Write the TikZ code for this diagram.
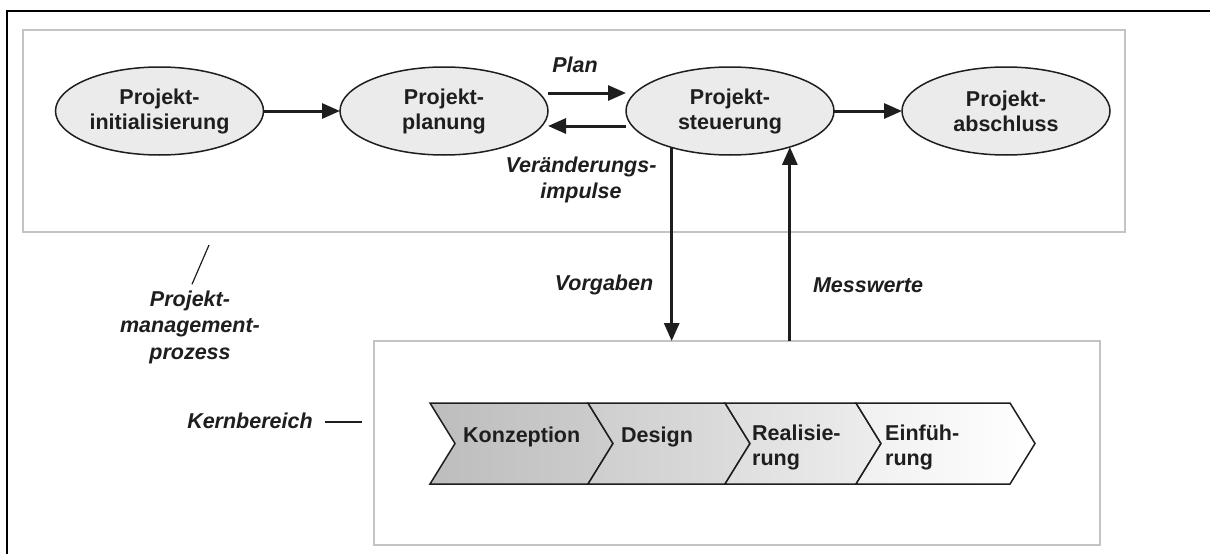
\documentclass[tikz,border=0pt]{standalone}
\usepackage{fontspec}
\setmainfont{Liberation Sans}
\usetikzlibrary{shapes.geometric,arrows.meta}
\definecolor{ink}{HTML}{1E1E1E}
\definecolor{boxgray}{HTML}{C4C4C4}
\definecolor{ovalfill}{HTML}{EBEBEB}
\tikzset{
  txt/.style={font=\fontsize{21.5}{25}\selectfont\bfseries, text=ink, inner sep=0pt},
  itxt/.style={font=\fontsize{21.5}{25.5}\selectfont\bfseries\itshape, text=ink, inner sep=0pt, align=center},
  phase/.style={ellipse, draw=ink, line width=1.5pt, fill=ovalfill,
    minimum width=208pt, minimum height=88pt, inner sep=0pt, outer sep=0pt,
    align=center, font=\fontsize{21.5}{25}\selectfont\bfseries, text=ink},
  area/.style={draw=boxgray, line width=2.6pt, inner sep=0pt, outer sep=0pt},
  flow/.style={draw=ink, line width=3pt, -{Triangle[length=18pt,width=15pt]}},
  pointer/.style={draw=ink, line width=1.2pt},
  chev/.style={draw=ink, line width=1.5pt, line join=miter},
}
\begin{document}
\begin{tikzpicture}[x=1pt,y=-1pt]
\useasboundingbox (0,0) rectangle (1210,554);
\fill[white] (0,0) rectangle (1210,554);

% outer frame
\draw[black, line width=2pt] (1210,11) -- (7,11) -- (7,554);

% management process area and core area
\node[area, minimum width=1102pt, minimum height=202pt] (upper) at (574,131) {};
\node[area, minimum width=726pt, minimum height=204pt] (lower) at (737,443) {};

% project management phases
\node[phase] (e1) at (159.5,111) {Projekt-\\initialisierung};
\node[phase] (e2) at (444,111) {Projekt-\\planung};
\node[phase] (e3) at (730,111) {Projekt-\\steuerung};
\node[phase] (e4) at (1006,111) {Projekt-\\abschluss};

\draw[flow] (e1.east) -- (e2.west);
\draw[flow] ([yshift=18pt]e2.east) -- ([yshift=18pt]e3.west);
\draw[flow] ([yshift=-15pt]e3.west) -- ([yshift=-15pt]e2.east);
\draw[flow] (e3.east) -- (e4.west);
\draw[flow] (e3.212.7) -- (e3.212.7 |- lower.north);
\draw[flow] (e3.329.8 |- lower.north) -- (e3.329.8);

% arrow labels
\node[itxt] (plan) at (575,65) {Plan};
\node[itxt] (impulse) at (581,180) {Veränderungs-\\impulse};
\node[itxt] (vorgaben) at (604,285) {Vorgaben};
\node[itxt] (messwerte) at (868,285) {Messwerte};

% area captions
\node[itxt, font=\fontsize{21.5}{26.5}\selectfont\bfseries\itshape] (pm) at (190,327) {Projekt-\\management-\\prozess};
\coordinate (pmtip) at (209,245);
\draw[pointer] ([xshift=2pt,yshift=6pt]pm.north) -- (pmtip);
\node[itxt] (kern) at (250,421) {Kernbereich};
\coordinate (kerntip) at (362,422);
\draw[pointer] ([xshift=12pt]kern.east |- 0,422) -- (kerntip);

% core process chevrons
\foreach \xl/\xr/\cl/\cr in {430/588/BDBDBD/CDCDCD, 588/725/CECECE/DDDDDD, 725/856/DEDEDE/EDEDED, 856/1010/F0F0F0/FFFFFF}{
  \definecolor{cl}{HTML}{\cl}\definecolor{cr}{HTML}{\cr}
  \shade[left color=cl, right color=cr]
    (\xl,403) -- (\xr,403) -- (\xr+25,443.5) -- (\xr,484) -- (\xl,484) -- (\xl+25,443.5) -- cycle;
  \draw[chev]
    (\xl,403) -- (\xr,403) -- (\xr+25,443.5) -- (\xr,484) -- (\xl,484) -- (\xl+25,443.5) -- cycle;
}
\node[txt, anchor=west] (t1) at (463,437) {Konzeption};
\node[txt, anchor=west] (t2) at (621,437) {Design};
\node[txt, anchor=west, align=left] (t3) at (752,447) {Realisie-\\rung};
\node[txt, anchor=west, align=left] (t4) at (885,447) {Einfüh-\\rung};
\end{tikzpicture}
\end{document}
